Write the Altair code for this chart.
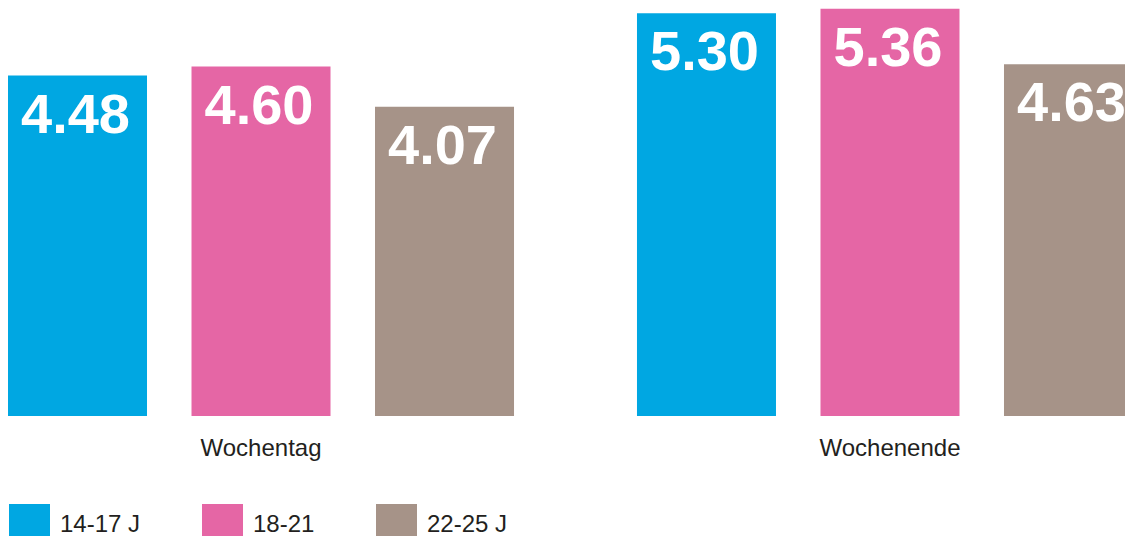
import altair as alt
import pandas as pd

group_order = ["Wochentag", "Wochenende"]
age_order = ["14-17 J", "18-21", "22-25 J"]
groups = ["Wochentag", "Wochentag", "Wochentag", "Wochenende", "Wochenende", "Wochenende"]
ages = ["14-17 J", "18-21", "22-25 J", "14-17 J", "18-21", "22-25 J"]
values = [4.48, 4.60, 4.07, 5.30, 5.36, 4.63]
labels = ["4.48", "4.60", "4.07", "5.30", "5.36", "4.63"]
colors = ["#00a7e2", "#e566a5", "#a69388"]

df = pd.DataFrame({"Zeit": groups, "Alter": ages, "Wert": values, "Label": labels})

x = alt.X(
    "Zeit:N",
    sort=group_order,
    scale=alt.Scale(domain=group_order, range=[0, 1135], paddingInner=0.1955, paddingOuter=0.0),
    axis=alt.Axis(
        title=None, labelAngle=0, domain=False, ticks=False, tickSize=0,
        labelPadding=20, labelFontSize=24, labelColor="#231f20",
        labelFont="Liberation Sans", labelFontWeight="normal",
    ),
)
xo = alt.XOffset(
    "Alter:N", sort=age_order,
    scale=alt.Scale(domain=age_order, paddingInner=0.2425, paddingOuter=0),
)
y = alt.Y("Wert:Q", scale=alt.Scale(domain=[0, 5.37], nice=False, zero=True), axis=None)
color = alt.Color(
    "Alter:N",
    sort=age_order,
    scale=alt.Scale(domain=age_order, range=colors),
    legend=alt.Legend(
        title=None, orient="none", legendX=1, legendY=496, direction="horizontal",
        symbolType="square", symbolSize=1681, symbolStrokeWidth=0, symbolOpacity=1,
        labelFontSize=24, labelColor="#231f20", labelOffset=10, labelFont="Liberation Sans",
        columnPadding=61, gridAlign="each",
    ),
)

bars = alt.Chart(df).mark_bar(opacity=1).encode(x=x, xOffset=xo, y=y, color=color)

text = alt.Chart(df).mark_text(
    baseline="alphabetic", align="center", dy=57, dx=-2, fontSize=56,
    font="Liberation Sans", fontWeight="bold", color="white",
).encode(x=x, xOffset=xo, y=y, text="Label:N")

chart = (
    alt.layer(bars, text)
    .properties(
        width=1117, height=408,
        autosize=alt.AutoSizeParams(type="none"),
        padding={"left": 0, "top": 0, "right": 0, "bottom": 120},
    )
    .configure_view(stroke=None)
)

chart.save("out.html", embed_options={"renderer": "svg", "actions": False})
